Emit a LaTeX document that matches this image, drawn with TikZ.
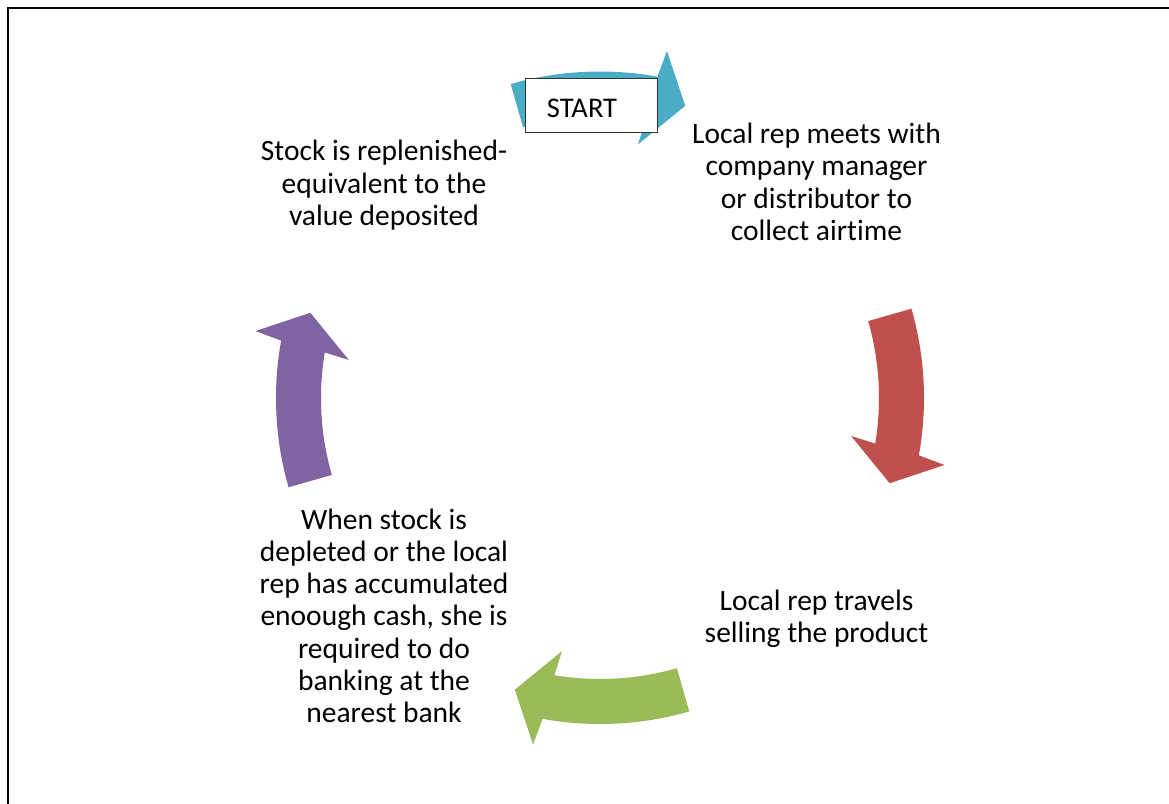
\documentclass[tikz,border=0pt]{standalone}
\usepackage{fontspec}
\setmainfont{Carlito}[Ligatures=NoCommon]
\definecolor{cycleteal}{HTML}{4BACC6}
\definecolor{cyclered}{HTML}{C0504D}
\definecolor{cyclegreen}{HTML}{9BBB59}
\definecolor{cyclepurple}{HTML}{8064A2}
% one curved block arrow of the cycle, drawn at angle 0 and turned into place
\newcommand\cyclearrow[2]{%
  \fill[#2, rotate=#1]
    (16:324pt) arc[start angle=16, end angle=-10.2, radius=324pt]
    -- (-11:351pt) -- (-16.4:302pt) -- (-8.6:254pt) -- (-9.4:279pt)
    arc[start angle=-9.4, end angle=16, radius=279pt] -- cycle;}
\tikzset{
  steptext/.style={font=\fontsize{29.5}{32.3}\selectfont, align=center, inner sep=0pt, anchor=base},
  startbox/.style={draw=black!80, line width=1pt, fill=white, minimum width=131pt, minimum height=54.4pt, inner sep=0pt},
}
\begin{document}
\begin{tikzpicture}[x=1pt,y=1pt]
\useasboundingbox (-600,-405) rectangle (569,398);
\fill[white] (-600,-405) rectangle (569,398);
% outer frame
\draw[line width=2.5pt] (-592,-420) -- (-592,390) -- (590,390);
% the four arrows of the cycle
\begin{scope}[shift={(0,2.5)}]\cyclearrow{90}{cycleteal}\end{scope}
\cyclearrow{0}{cyclered}
\begin{scope}[shift={(0,-2)}]\cyclearrow{-90}{cyclegreen}\end{scope}
\cyclearrow{180}{cyclepurple}
% start label
\node[startbox] (startbox) at (-8.5,292.5) {};
\node[font=\fontsize{28.5}{34}\selectfont, inner sep=0pt, anchor=base] (start) at (-18,280.8) {START};
% step texts (anchored at the baseline of their last line)
\node[steptext] (collect) at (216.5,157.6) {Local rep meets with\\company manager\\or distributor to\\collect airtime};
\node[steptext] (travel) at (216.5,-244.3) {Local rep travels\\selling the product};
\node[steptext] (bank) at (-216,-324.8) {When stock is\\depleted or the local\\rep has accumulated\\enoough cash, she is\\required to do\\banking at the\\nearest bank};
\node[steptext] (restock) at (-216,172.4) {Stock is replenished-\\equivalent to the\\value deposited};
\end{tikzpicture}
\end{document}
